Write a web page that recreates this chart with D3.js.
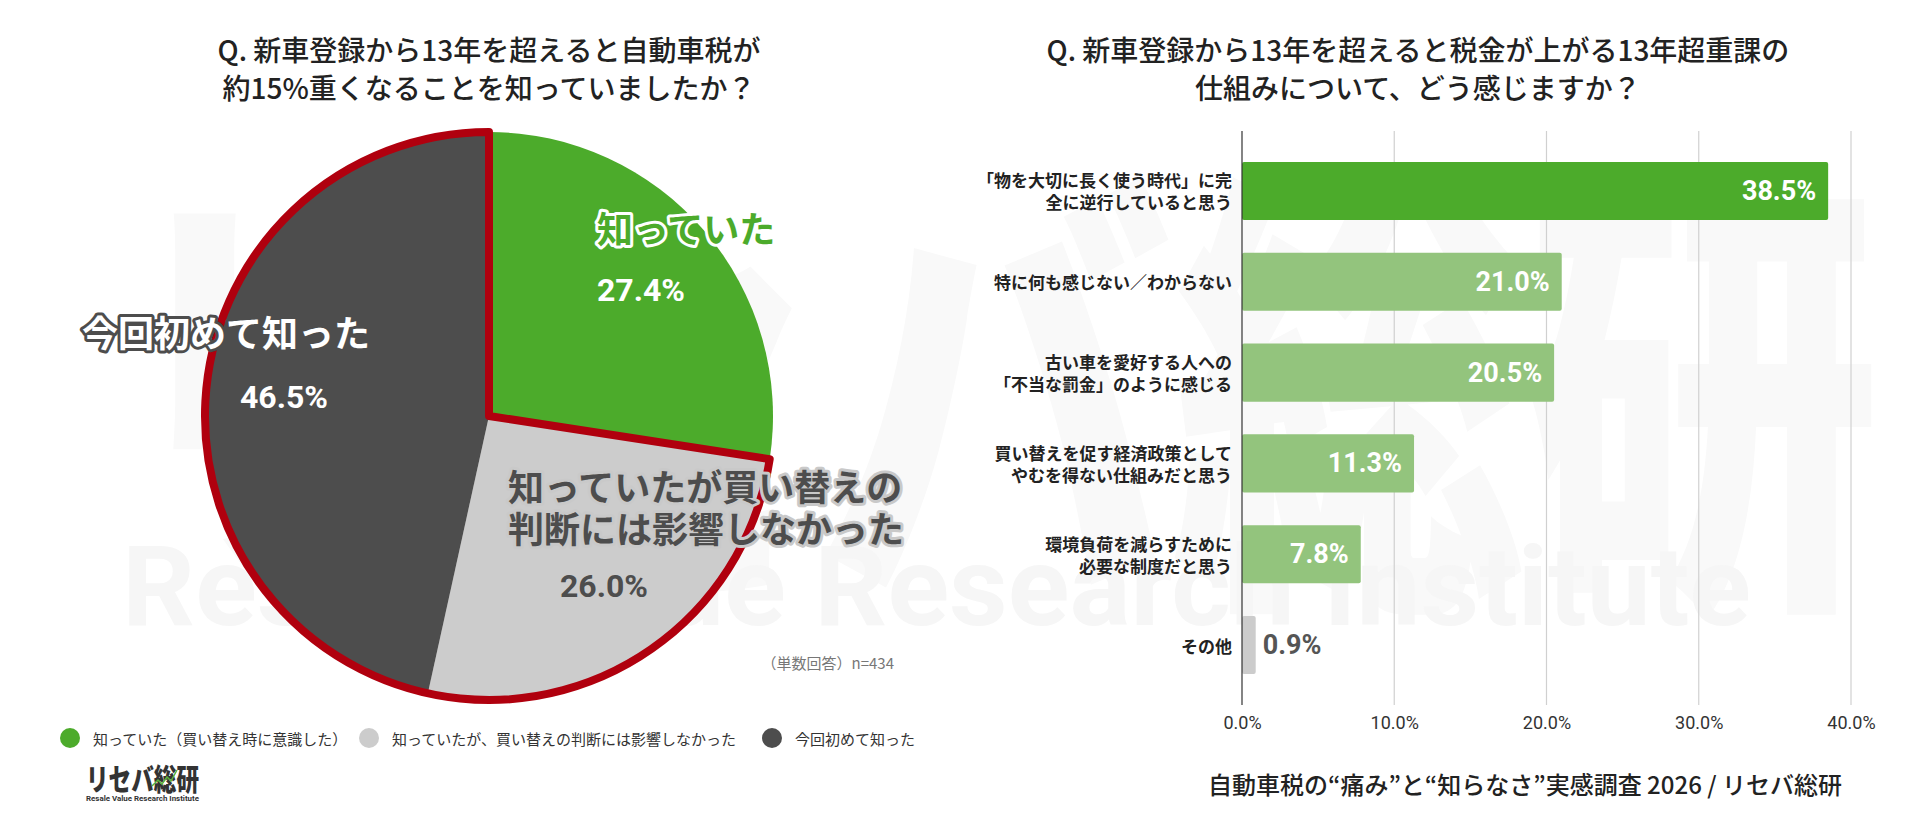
<!DOCTYPE html>
<html><head><meta charset="utf-8">
<script src="https://cdn.jsdelivr.net/npm/d3@7"></script>
<style>html,body{margin:0;padding:0;background:#fff;} svg{display:block;}</style>
</head><body>
<svg id="c" width="1920" height="817"></svg>
<script>
// ---------- data ----------
const pieTitleLines = ["Q. 新車登録から13年を超えると自動車税が", "約15%重くなることを知っていましたか？"];
const pieCategories = ["知っていた（買い替え時に意識した）", "知っていたが、買い替えの判断には影響しなかった", "今回初めて知った"];
const pieValues = [27.4, 26.0, 46.5];
const pieLabelLines = [["知っていた"], ["知っていたが買い替えの", "判断には影響しなかった"], ["今回初めて知った"]];
const pieNote = "（単数回答）n=434";

const barTitleLines = ["Q. 新車登録から13年を超えると税金が上がる13年超重課の", "仕組みについて、どう感じますか？"];
const barCategories = [
  "「物を大切に長く使う時代」に完\n全に逆行していると思う",
  "特に何も感じない／わからない",
  "古い車を愛好する人への\n「不当な罰金」のように感じる",
  "買い替えを促す経済政策として\nやむを得ない仕組みだと思う",
  "環境負荷を減らすために\n必要な制度だと思う",
  "その他"
];
const barValues = [38.5, 21.0, 20.5, 11.3, 7.8, 0.9];
const xTickValues = [0, 10, 20, 30, 40];
const footerText = "自動車税の“痛み”と“知らなさ”実感調査 2026 / リセバ総研";

// ---------- style ----------
const JP = "'Noto Sans CJK JP', 'Noto Sans', sans-serif";
const NUM = "Roboto, 'Noto Sans', sans-serif";
const GREEN = "#4cab2b", LIGHTGREEN = "#93c47d", LGRAY = "#cccccc", DGRAY = "#4d4d4d", RED = "#b0000e";
const pieColors = [GREEN, LGRAY, DGRAY];
const barColors = [GREEN, LIGHTGREEN, LIGHTGREEN, LIGHTGREEN, LIGHTGREEN, LGRAY];

const svg = d3.select("#c");

// ---------- watermark ----------
const wm = svg.append("g");
wm.append("text").attr("x", 110).attr("y", 370).attr("dominant-baseline", "central")
  .attr("font-family", JP).attr("font-weight", 900).attr("font-size", 460).attr("fill", "#f9f9f9")
  .attr("textLength", 1770).attr("lengthAdjust", "spacingAndGlyphs").text("リセバ総研");
wm.append("text").attr("x", 122).attr("y", 625).attr("fill", "#f6f6f6")
  .attr("font-family", NUM).attr("font-weight", 700).attr("font-size", 112)
  .attr("textLength", 1629).attr("lengthAdjust", "spacingAndGlyphs").text("Resale Value Research Institute");

// ---------- left: pie ----------
const cx = 489, cy = 416, R = 284;
svg.append("g").selectAll("text").data(pieTitleLines).join("text")
  .attr("x", cx).attr("y", (d, i) => 49 + i * 38)
  .attr("text-anchor", "middle").attr("dominant-baseline", "central")
  .attr("font-family", JP).attr("font-weight", 500).attr("font-size", 28).attr("fill", "#222")
  .text(d => d);

const pie = d3.pie().sort(null).value(d => d)(pieValues);
const arc = d3.arc().innerRadius(0).outerRadius(R);
const pg = svg.append("g").attr("transform", `translate(${cx},${cy})`);
pg.selectAll("path.slice").data(pie).join("path").attr("class", "slice")
  .attr("d", arc).attr("fill", (d, i) => pieColors[i]);

// red outline around the non-green part
const outline = d3.arc().innerRadius(0).outerRadius(R)
  .startAngle(pie[0].endAngle).endAngle(pie[2].endAngle);
pg.append("path").attr("d", outline()).attr("fill", "none")
  .attr("stroke", RED).attr("stroke-width", 8).attr("stroke-linejoin", "round");

// labels
const labelLayout = [
  {x: 597, ys: [227], px: 597, py: 290, fill: GREEN, stroke: "#ffffff", pfill: "#ffffff"},
  {x: 508, ys: [485, 527], px: 560, py: 586, fill: "#4d4d4d", stroke: "#c9c9c9", pfill: "#4d4d4d"},
  {x: 82, ys: [331], px: 240, py: 397, fill: "#ffffff", stroke: DGRAY, pfill: "#ffffff"}
];
pieLabelLines.forEach((lines, i) => {
  const L = labelLayout[i];
  lines.forEach((t, j) => {
    svg.append("text").attr("x", L.x).attr("y", L.ys[j]).attr("dominant-baseline", "central")
      .attr("font-family", JP).attr("font-weight", 700).attr("font-size", 36)
      .attr("fill", L.fill).attr("stroke", L.stroke).attr("stroke-width", 6)
      .attr("stroke-linejoin", "round").attr("paint-order", "stroke").text(t);
  });
  svg.append("text").attr("x", L.px).attr("y", L.py).attr("dominant-baseline", "central")
    .attr("font-family", NUM).attr("font-weight", 700).attr("font-size", 32)
    .attr("fill", L.pfill).text(pieValues[i].toFixed(1) + "%");
});

svg.append("text").attr("x", 894).attr("y", 662).attr("text-anchor", "end").attr("dominant-baseline", "central")
  .attr("font-family", JP).attr("font-size", 15).attr("fill", "#777").text(pieNote);

// legend
const legX = [70, 369, 772];
const lg = svg.append("g").selectAll("g").data(pieCategories).join("g")
  .attr("transform", (d, i) => `translate(${legX[i]},738)`);
lg.append("circle").attr("r", 10).attr("fill", (d, i) => pieColors[i]);
lg.append("text").attr("x", 23).attr("dominant-baseline", "central")
  .attr("font-family", JP).attr("font-size", 15).attr("fill", "#333").text(d => d);

// logo
svg.append("text").attr("x", 86).attr("y", 777).attr("dominant-baseline", "central")
  .attr("font-family", JP).attr("font-weight", 900).attr("font-size", 30).attr("fill", "#333")
  .attr("textLength", 113).attr("lengthAdjust", "spacingAndGlyphs").text("リセバ総研");
svg.append("polyline").attr("points", "152,786 158,780 162,784 167,777 171,781 177,770")
  .attr("fill", "none").attr("stroke", "#5bb33a").attr("stroke-width", 1.5);
svg.append("text").attr("x", 86).attr("y", 798).attr("dominant-baseline", "central")
  .attr("font-family", NUM).attr("font-weight", 700).attr("font-size", 8).attr("fill", "#333")
  .attr("textLength", 113).attr("lengthAdjust", "spacingAndGlyphs").text("Resale Value Research Institute");

// ---------- right: bars ----------
const x = d3.scaleLinear().domain([0, 40]).range([1242, 1851]);
const y = d3.scaleBand().domain(barCategories).range([131, 705]).paddingInner(0.36).paddingOuter(0.34);

svg.append("g").selectAll("text").data(barTitleLines).join("text")
  .attr("x", 1418).attr("y", (d, i) => 49 + i * 38)
  .attr("text-anchor", "middle").attr("dominant-baseline", "central")
  .attr("font-family", JP).attr("font-weight", 500).attr("font-size", 28).attr("fill", "#222")
  .text(d => d);

// grid
svg.append("g").selectAll("line").data(xTickValues.filter(v => v > 0)).join("line")
  .attr("x1", d => x(d)).attr("x2", d => x(d)).attr("y1", 131).attr("y2", 705)
  .attr("stroke", "#d0d0d0").attr("stroke-width", 1.2);

// bars
svg.append("g").selectAll("rect").data(barValues).join("rect")
  .attr("x", x(0)).attr("y", (d, i) => y(barCategories[i]))
  .attr("width", d => x(d) - x(0)).attr("height", y.bandwidth())
  .attr("rx", 2).attr("fill", (d, i) => barColors[i]);

// axis line at zero
svg.append("line").attr("x1", x(0)).attr("x2", x(0)).attr("y1", 131).attr("y2", 705)
  .attr("stroke", "#333").attr("stroke-width", 1.2);

// value labels
svg.append("g").selectAll("text").data(barValues).join("text")
  .attr("x", d => d > 3 ? x(d) - 12 : x(d) + 7)
  .attr("y", (d, i) => y(barCategories[i]) + y.bandwidth() / 2)
  .attr("text-anchor", d => d > 3 ? "end" : "start").attr("dominant-baseline", "central")
  .attr("font-family", NUM).attr("font-weight", 700).attr("font-size", 27)
  .attr("fill", d => d > 3 ? "#fff" : "#555")
  .text(d => d.toFixed(1) + "%");

// category labels
const cg = svg.append("g").selectAll("text").data(barCategories).join("text")
  .attr("x", 1232).attr("text-anchor", "end")
  .attr("font-family", JP).attr("font-weight", 700).attr("font-size", 17).attr("fill", "#222");
cg.each(function(d) {
  const lines = d.split("\n");
  const c = y(d) + y.bandwidth() / 2;
  d3.select(this).selectAll("tspan").data(lines).join("tspan")
    .attr("x", 1232).attr("dominant-baseline", "central")
    .attr("y", (t, j) => c + (j - (lines.length - 1) / 2) * 22).text(t => t);
});

// x axis ticks
const ax = svg.append("g").attr("transform", "translate(0,713)")
  .call(d3.axisBottom(x).tickValues(xTickValues).tickSize(0).tickFormat(d => d.toFixed(1) + "%"));
ax.select(".domain").remove();
ax.selectAll("text").attr("font-family", NUM).attr("font-size", 18).attr("fill", "#333").attr("dy", "0.71em");

// footer
svg.append("text").attr("x", 1525).attr("y", 783).attr("text-anchor", "middle").attr("dominant-baseline", "central")
  .attr("font-family", JP).attr("font-weight", 500).attr("font-size", 24).attr("fill", "#222").text(footerText);
</script>
</body></html>
